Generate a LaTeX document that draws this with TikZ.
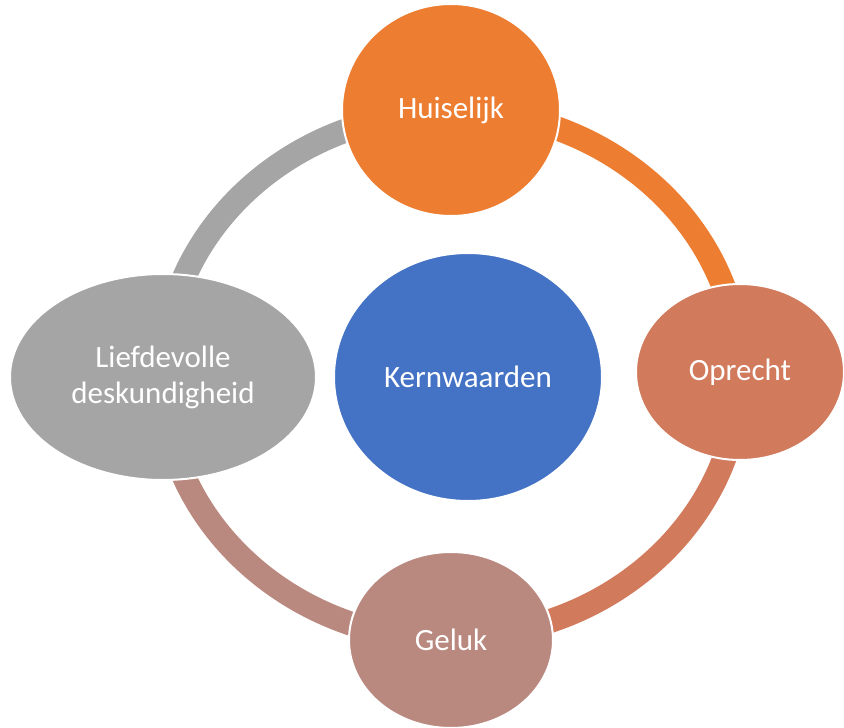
\documentclass[tikz,border=0pt]{standalone}
\usepackage{fontspec}
\setmainfont{Carlito}
\usepackage{tikz}
\usetikzlibrary{shapes.geometric, positioning, backgrounds}
\usepackage{xcolor}
\definecolor{huiscol}{HTML}{ED7D31}
\definecolor{kerncol}{HTML}{4472C4}
\definecolor{oprcol}{HTML}{D27B5C}
\definecolor{gelcol}{HTML}{B9897F}
\definecolor{liefcol}{HTML}{A5A5A5}
\tikzstyle{value} = [ellipse, draw=white, line width=2pt, text=white, align=center, inner sep=0pt, font=\fontsize{31}{36}\selectfont]
\tikzstyle{ring} = [line width=24pt]

\begin{document}
\begin{tikzpicture}[x=1pt, y=-1pt]
        \useasboundingbox (0,0) rectangle (844,728);
        \node[value, fill=kerncol, minimum width=268pt, minimum height=248pt] (kern) at (468,377) {Kernwaarden};
        \node[value, fill=huiscol, minimum width=218pt, minimum height=212pt, above of=kern, node distance=267pt, xshift=-17pt] (huis) {Huiselijk};
        \node[value, fill=oprcol, minimum width=208pt, minimum height=176pt, right of=kern, node distance=272pt, yshift=5pt] (opr) {Oprecht};
        \node[value, fill=gelcol, minimum width=204pt, minimum height=176pt, below of=kern, node distance=263pt, xshift=-17pt] (gel) {Geluk};
        \node[value, fill=liefcol, minimum width=306pt, minimum height=206pt, left of=kern, node distance=305pt] (lief) {Liefdevolle\\deskundigheid};
        % ring under the nodes
        \begin{scope}[on background layer]
        \draw[ring, huiscol] (huis.center) arc[start angle=90, end angle=0, x radius=289pt, y radius=265pt];
        \draw[ring, oprcol] (opr.center) arc[start angle=0, end angle=-90, x radius=289pt, y radius=265pt];
        \draw[ring, gelcol] (gel.center) arc[start angle=-90, end angle=-180, x radius=289pt, y radius=265pt];
        \draw[ring, liefcol] (lief.center) arc[start angle=180, end angle=90, x radius=289pt, y radius=265pt];
        \end{scope}
\end{tikzpicture}
\end{document}
